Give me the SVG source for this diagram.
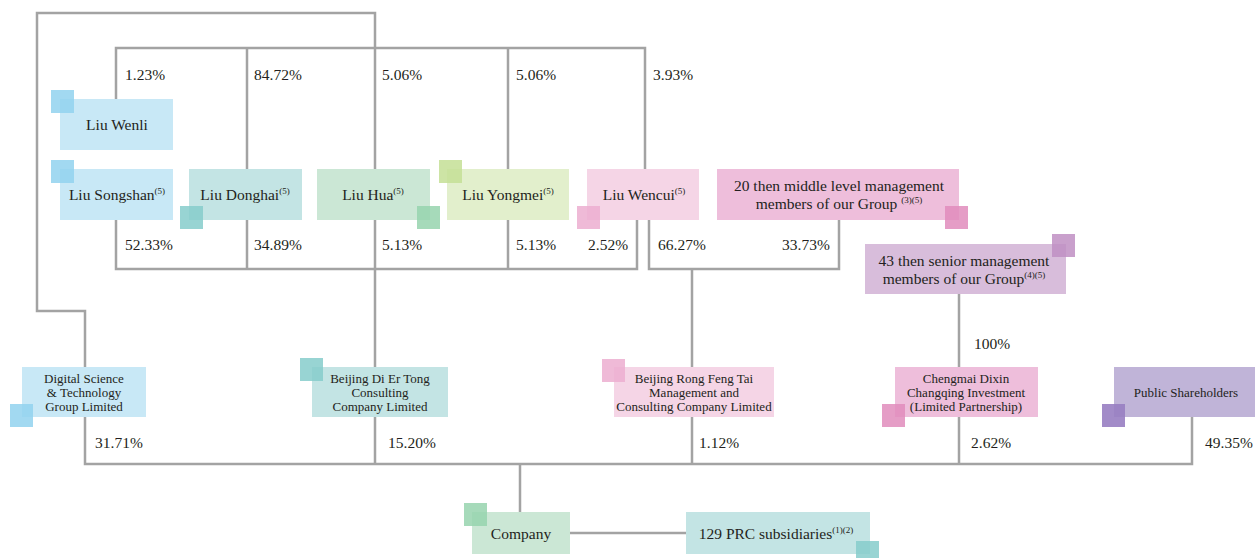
<svg xmlns="http://www.w3.org/2000/svg" width="1255" height="558" viewBox="0 0 1255 558">
<style>
text{fill:#231f20}
.n{font-size:15.5px;text-anchor:middle}
.s{font-size:13px;text-anchor:middle}
.p{font-size:15.5px}
.sup{font-size:9px}
.ln{fill:none;stroke:#a3a3a3;stroke-width:2.5}
.blue{fill:#c8e8f6}.blueq{fill:#92d2ef;opacity:.85}
.teal{fill:#c3e4e4}.tealq{fill:#86cccb;opacity:.85}
.green{fill:#cbe7d5}.greenq{fill:#97d4ae;opacity:.85}
.lg{fill:#e2efcc}.lgq{fill:#c4df95;opacity:.85}
.lp{fill:#f5d5e6}.lpq{fill:#ecaed0;opacity:.85}
.pk{fill:#eebedb}.pkq{fill:#e08cbc;opacity:.85}
.pu{fill:#d8bddb}.puq{fill:#c08fc3;opacity:.85}
.dp{fill:#c0b4d8}.dpq{fill:#987ec2;opacity:.9}
</style>
<g font-family="'Liberation Serif', 'DejaVu Serif', 'Times New Roman', serif">
<g id="connectors">
<path class="ln" d="M85,367 V311 H37 V13 H375 V170"/>
<path class="ln" d="M116,100 V48 H645 V170 M247,48 V170 M508,48 V170"/>
<path class="ln" d="M116,220 V269 H637 V220 M247,220 V269 M508,220 V269 M375,220 V367"/>
<path class="ln" d="M649,220 V269 H839 V220 M692,269 V367"/>
<path class="ln" d="M959,294 V367"/>
<path class="ln" d="M85,417 V464 H1192 V417 M375,417 V464 M692,417 V464 M959,417 V464 M520,464 V512"/>
<path class="ln" d="M570,533 H686"/>
</g>
<g id="labels">
<text class="p" x="125" y="80">1.23%</text>
<text class="p" x="254" y="80">84.72%</text>
<text class="p" x="382" y="80">5.06%</text>
<text class="p" x="516" y="80">5.06%</text>
<text class="p" x="653" y="80">3.93%</text>
<text class="p" x="125" y="250">52.33%</text>
<text class="p" x="254" y="250">34.89%</text>
<text class="p" x="382" y="250">5.13%</text>
<text class="p" x="516" y="250">5.13%</text>
<text class="p" x="588" y="250">2.52%</text>
<text class="p" x="658" y="250">66.27%</text>
<text class="p" x="782" y="250">33.73%</text>
<text class="p" x="974" y="349">100%</text>
<text class="p" x="95" y="448">31.71%</text>
<text class="p" x="388" y="448">15.20%</text>
<text class="p" x="699" y="448">1.12%</text>
<text class="p" x="971" y="448">2.62%</text>
<text class="p" x="1205" y="448">49.35%</text>
</g>
<g id="liu-wenli">
<rect class="blue" x="60" y="99" width="113" height="51"/>
<rect class="blueq" x="51" y="90" width="23" height="23"/>
<text class="n" x="117" y="130">Liu Wenli</text>
</g>
<g id="liu-songshan">
<rect class="blue" x="60" y="169" width="113" height="51"/>
<rect class="blueq" x="51" y="160" width="23" height="23"/>
<text class="n" x="117" y="200">Liu Songshan<tspan class="sup" dy="-6">(5)</tspan></text>
</g>
<g id="liu-donghai">
<rect class="teal" x="189" y="169" width="113" height="51"/>
<rect class="tealq" x="180" y="206" width="23" height="23"/>
<text class="n" x="245" y="200">Liu Donghai<tspan class="sup" dy="-6">(5)</tspan></text>
</g>
<g id="liu-hua">
<rect class="green" x="317" y="169" width="113" height="51"/>
<rect class="greenq" x="417" y="206" width="23" height="23"/>
<text class="n" x="373" y="200">Liu Hua<tspan class="sup" dy="-6">(5)</tspan></text>
</g>
<g id="liu-yongmei">
<rect class="lg" x="447" y="169" width="122" height="51"/>
<rect class="lgq" x="439" y="160" width="23" height="23"/>
<text class="n" x="508" y="200">Liu Yongmei<tspan class="sup" dy="-6">(5)</tspan></text>
</g>
<g id="liu-wencui">
<rect class="lp" x="587" y="169" width="112" height="51"/>
<rect class="lpq" x="577" y="206" width="23" height="23"/>
<text class="n" x="644" y="200">Liu Wencui<tspan class="sup" dy="-6">(5)</tspan></text>
</g>
<g id="middle-mgmt">
<rect class="pk" x="717" y="169" width="242" height="51"/>
<rect class="pkq" x="945" y="206" width="23" height="23"/>
<text class="n" x="839" y="191">20 then middle level management</text>
<text class="n" x="839" y="209">members of our Group <tspan class="sup" dy="-6">(3)(5)</tspan></text>
</g>
<g id="senior-mgmt">
<rect class="pu" x="865" y="244" width="201" height="50"/>
<rect class="puq" x="1052" y="234" width="23" height="23"/>
<text class="n" x="964" y="266">43 then senior management</text>
<text class="n" x="964" y="284">members of our Group<tspan class="sup" dy="-6">(4)(5)</tspan></text>
</g>
<g id="digital-science">
<rect class="blue" x="22" y="367" width="124" height="50"/>
<rect class="blueq" x="10" y="404" width="23" height="23"/>
<text class="s" x="84" y="383">Digital Science</text>
<text class="s" x="84" y="397">&amp; Technology</text>
<text class="s" x="84" y="411">Group Limited</text>
</g>
<g id="di-er-tong">
<rect class="teal" x="312" y="367" width="136" height="50"/>
<rect class="tealq" x="300" y="358" width="23" height="23"/>
<text class="s" x="380" y="383">Beijing Di Er Tong</text>
<text class="s" x="380" y="397">Consulting</text>
<text class="s" x="380" y="411">Company Limited</text>
</g>
<g id="rong-feng-tai">
<rect class="lp" x="614" y="367" width="160" height="50"/>
<rect class="lpq" x="602" y="359" width="23" height="23"/>
<text class="s" x="694" y="383">Beijing Rong Feng Tai</text>
<text class="s" x="694" y="397">Management and</text>
<text class="s" x="694" y="411">Consulting Company Limited</text>
</g>
<g id="chengmai">
<rect class="pk" x="895" y="367" width="143" height="50"/>
<rect class="pkq" x="882" y="404" width="23" height="23"/>
<text class="s" x="966" y="383">Chengmai Dixin</text>
<text class="s" x="966" y="397">Changqing Investment</text>
<text class="s" x="966" y="411">(Limited Partnership)</text>
</g>
<g id="public">
<rect class="dp" x="1114" y="367" width="145" height="50"/>
<rect class="dpq" x="1102" y="404" width="23" height="23"/>
<text class="s" x="1186" y="397">Public Shareholders</text>
</g>
<g id="company">
<rect class="green" x="472" y="512" width="98" height="42"/>
<rect class="greenq" x="464" y="503" width="23" height="23"/>
<text class="n" x="521" y="539">Company</text>
</g>
<g id="prc">
<rect class="teal" x="686" y="512" width="184" height="42"/>
<rect class="tealq" x="856" y="541" width="23" height="23"/>
<text class="n" x="776" y="539">129 PRC subsidiaries<tspan class="sup" dy="-6">(1)(2)</tspan></text>
</g>
</g>
</svg>
